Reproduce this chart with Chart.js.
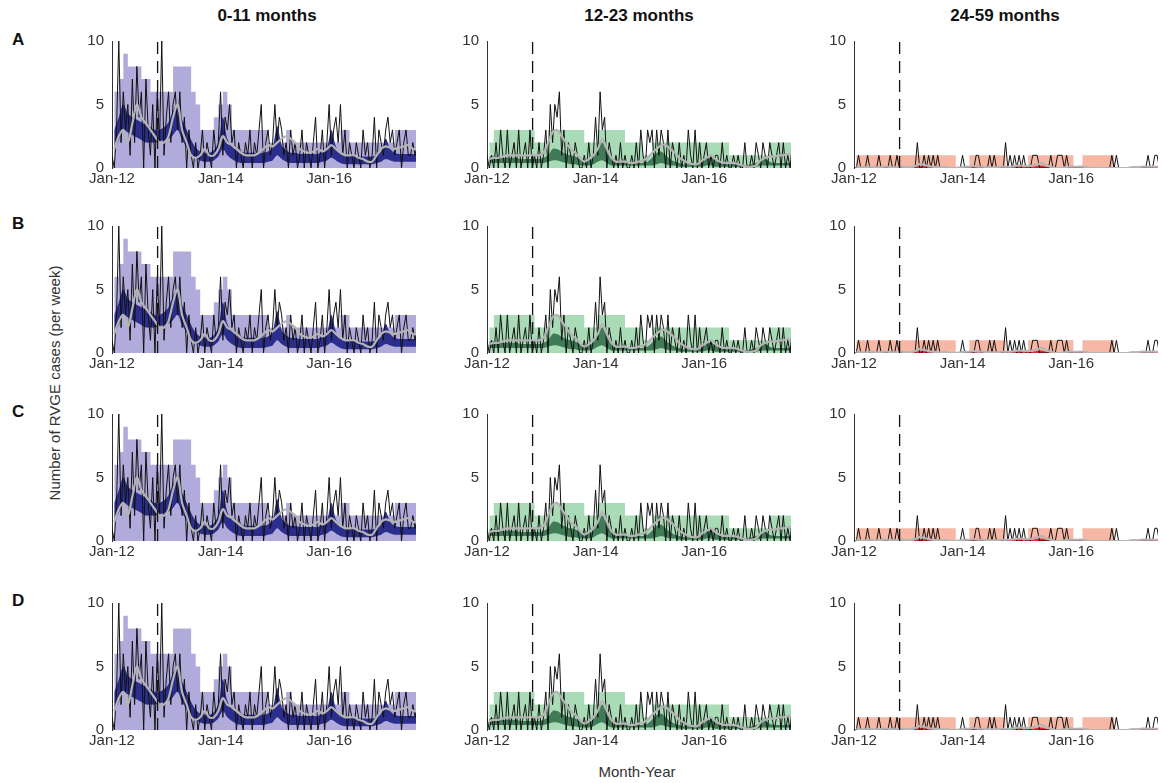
<!DOCTYPE html>
<html>
<head>
<meta charset="utf-8">
<script src="https://cdn.jsdelivr.net/npm/chart.js@4"></script>
<style>
  body { margin: 0; width: 1161px; height: 783px; background: #fff; position: relative; overflow: hidden;
         font-family: "Liberation Sans", Arial, sans-serif; }
  .pane { position: absolute; }
  .txt { position: absolute; color: #111; }
  .title { font-weight: bold; font-size: 17px; transform: translateX(-50%); }
  .row { font-weight: bold; font-size: 17px; }
</style>
</head>
<body>
<div class="txt title" style="left:267px;top:6px">0-11 months</div>
<div class="txt title" style="left:639px;top:6px">12-23 months</div>
<div class="txt title" style="left:1005px;top:6px">24-59 months</div>
<div class="txt row" style="left:12px;top:30px">A</div>
<div class="txt row" style="left:12px;top:214px">B</div>
<div class="txt row" style="left:12px;top:402px">C</div>
<div class="txt row" style="left:12px;top:591px">D</div>
<div class="txt" style="left:54px;top:383px;font-size:15px;color:#333;transform:translate(-50%,-50%) rotate(-90deg);white-space:nowrap">Number of RVGE cases (per week)</div>
<div class="txt" style="left:637px;top:763px;font-size:15px;color:#333;transform:translateX(-50%)">Month-Year</div>

<script>
// ===== データ =====
var rows = ["A", "B", "C", "D"];
var groups = ["0-11 months", "12-23 months", "24-59 months"];
var tickYears = [2012, 2014, 2016];
var tickLabels = ["Jan-12", "Jan-14", "Jan-16"];
var vaccineDate = 2012.84;
var xStart = 2012, xEnd = 2017.6;

// 観測値（半月ごと）
var obs1 = [1,0,3,10,2,6,3,5,1,7,2,8,4,6,0,7,3,1,5,0,6,2,10,1,
            4,6,2,5,6,3,6,2,4,0,3,1,0,2,0,1,3,0,2,1,0,3,1,2,
            6,1,4,3,5,2,3,0,2,1,0,2,1,3,0,2,1,3,5,0,2,3,1,2,
            5,2,4,3,1,2,0,3,1,2,0,1,3,0,2,1,0,2,4,0,1,3,0,2,
            5,1,3,4,2,5,1,3,0,2,1,0,2,1,0,3,1,2,0,1,4,0,3,2,
            1,3,4,2,3,1,2,3,0,2,3,1,1,2,1,2];
var obs2 = [1,0,1,0,2,0,3,1,0,3,0,1,2,0,3,0,1,2,0,3,0,1,0,2,
            0,1,3,0,5,2,5,4,6,1,3,0,2,1,0,2,1,0,0,1,0,2,0,1,
            4,1,6,3,4,0,2,1,0,1,0,2,0,1,0,0,1,0,2,0,3,1,0,3,
            2,3,0,3,1,3,2,0,3,0,2,1,0,2,0,1,0,3,1,0,3,0,2,0,
            1,2,0,1,0,1,1,0,2,0,1,0,0,1,0,1,0,0,2,0,0,1,0,2,
            1,0,2,1,0,2,1,0,1,2,0,2,0,1,0,2];
var obs3 = [0,0,1,0,0,0,1,0,0,0,0,1,0,0,0,0,1,0,0,1,0,0,0,0,
            0,0,0,0,2,0,0,1,0,1,0,1,0,1,0,0,0,0,0,0,0,0,0,0,
            1,0,0,0,0,0,1,1,0,0,0,0,1,0,1,0,0,0,0,2,0,1,0,1,
            0,1,0,1,0,0,0,1,1,1,0,0,0,0,0,1,0,0,1,1,1,0,1,0,
            0,0,0,0,0,0,0,0,0,0,0,0,0,0,0,0,0,0,1,0,1,0,0,0,
            0,0,0,0,0,0,0,0,0,0,1,0,0,1,1,0];

// 予測区間（月ごと）
var lightHi1 = [6,7,9,8,8,8,7,7,6,6,6,6,6,8,8,8,8,6,5,3,3,3,4,5,
                6,5,3,3,3,3,3,3,3,3,2,2,2,2,3,2,2,2,2,2,2,2,2,2,
                2,2,3,3,2,2,2,2,2,2,2,2,2,2,3,3,3,3,3,3];
var darkLo1  = [1.5,2.2,3,2.8,2.6,2.4,2.2,2,2,2,2.1,2.2,2.3,2.6,3,2.2,1.6,1.1,0.8,0.6,0.5,0.5,0.6,0.9,
                1.5,1,0.7,0.5,0.4,0.4,0.4,0.4,0.4,0.4,0.5,0.6,1,0.7,0.5,0.4,0.4,0.4,0.4,0.4,0.4,0.4,0.5,0.6,
                0.8,0.6,0.4,0.3,0.3,0.3,0.3,0.3,0.3,0.3,0.4,0.5,0.7,0.6,0.5,0.5,0.5,0.5,0.5,0.5];
var darkHi1  = [3,4,5,4.3,4,3.8,3.6,3.4,3.2,3,3,3.2,3.6,4.5,5,3.8,3,2.2,1.6,1.3,1.2,1.2,1.4,2,
                4,2.3,1.7,1.4,1.3,1.2,1.2,1.2,1.2,1.2,1.3,1.6,3.3,1.8,1.4,1.2,1.2,1.1,1.1,1.1,1.1,1.1,1.3,1.6,
                3,1.7,1.2,1,1,1,0.9,0.9,0.9,0.9,1,1.3,2.3,1.5,1.2,1.1,1.1,1.1,1.1,1.1];
var median1  = [1.5,2.5,3,2,3.5,5,4,3.5,3,2.5,2,2,2.5,4,5,3,2,1,0.8,1,1.5,1,1,1.5,
                2.5,2,1.8,1.5,1.2,1,1,1,1.2,1.5,1.8,1.7,2,2.3,2.5,2.3,2,1.5,1.3,1.2,1.3,1.5,1.3,1.5,
                1.8,1.5,1.2,1,1,1,0.8,0.7,0.5,0.5,1,1.5,1.7,1.6,1.5,1.6,1.7,1.8,1.5,1.5];

var lightHi2 = [2,3,3,3,3,3,3,3,3,3,2,2,2,3,3,3,3,3,3,3,3,2,2,2,
                3,3,3,3,3,3,2,2,2,2,1,1,2,2,2,2,2,2,2,2,2,2,2,2,
                2,2,2,2,2,1,1,1,1,1,1,1,1,1,2,2,2,2,2,2];
var darkLo2  = [0.4,0.4,0.4,0.4,0.4,0.4,0.4,0.4,0.4,0.4,0.4,0.4,0.4,0.5,0.6,0.6,0.5,0.4,0.3,0.3,0.2,0.2,0.2,0.3,
                0.5,0.6,0.4,0.2,0.2,0.2,0.2,0.2,0.2,0.2,0.2,0.2,0.2,0.3,0.4,0.3,0.2,0.2,0.1,0.1,0.1,0.1,0.1,0.1,
                0.2,0.2,0.1,0.1,0.1,0.1,0.1,0.1,0.1,0.1,0.1,0.1,0.2,0.2,0.2,0.2,0.2,0.2,0.2,0.2];
var darkHi2  = [0.9,0.9,0.9,0.8,0.8,0.8,0.8,0.7,0.7,0.7,0.7,0.7,0.8,1,1.5,1.5,1.3,1.1,1,0.9,0.7,0.6,0.6,0.8,
                1.5,2,1.2,0.7,0.5,0.5,0.5,0.4,0.4,0.4,0.4,0.5,0.8,1.2,1.3,1,0.7,0.5,0.4,0.3,0.3,0.3,0.3,0.4,
                0.7,0.8,0.6,0.4,0.3,0.3,0.3,0.3,0.2,0.2,0.3,0.4,0.6,0.7,0.5,0.4,0.4,0.4,0.4,0.4];
var median2  = [0.7,0.8,0.8,0.9,1,1,1,1,1,1,1,1,1.2,2,2.8,3,2.5,2,1.5,1.2,0.8,0.5,0.7,1,
                1.5,2.3,1.5,0.8,0.5,0.5,0.5,0.4,0.4,0.5,0.6,0.8,1.2,1.5,1.8,1.8,1.5,1.2,0.8,0.6,0.4,0.3,0.3,0.6,
                0.8,1,0.7,0.5,0.4,0.4,0.4,0.3,0.2,0.1,0.1,0.2,0.6,0.8,0.9,0.9,1,1,1.1,1.1];

var lightHi3 = [1,1,1,1,1,1,1,1,1,1,1,1,1,1,1,1,1,1,1,1,1,1,0,0,
                0,1,1,1,1,1,1,1,1,0,0,0,0,0,1,1,1,1,1,1,1,1,1,1,
                0,0,1,1,1,1,1,1,1,0,0,0,0,0,0,0,0,0,0,0];
var darkLo3  = [0,0,0,0,0,0,0,0,0,0,0,0,0,0,0,0,0,0,0,0,0,0,0,0,
                0,0,0,0,0,0,0,0,0,0,0,0,0,0,0,0,0,0,0,0,0,0,0,0,
                0,0,0,0,0,0,0,0,0,0,0,0,0,0,0,0,0,0,0,0];
var darkHi3  = [0.05,0.05,0.05,0.05,0.05,0.05,0.05,0.05,0.05,0.05,0.05,0.05,0.05,0.1,0.15,0.15,0.1,0.05,0.05,0.05,0.05,0.05,0.05,0.05,
                0.05,0.05,0.1,0.1,0.05,0.05,0.05,0.05,0.05,0.05,0.05,0.1,0.15,0.1,0.1,0.1,0.15,0.2,0.1,0.05,0.05,0.05,0.05,0.05,
                0.1,0.1,0.1,0.05,0.05,0.05,0.05,0.05,0.05,0.05,0.05,0.05,0.05,0.1,0.1,0.1,0.1,0.1,0.1,0.1];
var median3  = [0.1,0.05,0.05,0.1,0.05,0.05,0.1,0.1,0.05,0.05,0.1,0.05,0.05,0.15,0.3,0.25,0.15,0.1,0.05,0.05,0.05,0,0,0.05,
                0.1,0.1,0.15,0.1,0.1,0.05,0.05,0.05,0.1,0.1,0.1,0.15,0.2,0.15,0.15,0.2,0.3,0.4,0.2,0.1,0,0,0.05,0.1,
                0.1,0.1,0.1,0.05,0,0,0,0,0,0,0,0,0,0.05,0.05,0.1,0.1,0.1,0.1,0.1];

var cols = [
  { obs: obs1, lightHi: lightHi1, darkLo: darkLo1, darkHi: darkHi1, median: median1,
    light: "#b1abdb", dark: "#2c2e8e", left: 72 },
  { obs: obs2, lightHi: lightHi2, darkLo: darkLo2, darkHi: darkHi2, median: median2,
    light: "#a9dbb6", dark: "#3e7b56", left: 447 },
  { obs: obs3, lightHi: lightHi3, darkLo: darkLo3, darkHi: darkHi3, median: median3,
    light: "#f6b8a4", dark: "#e8202a", left: 814 },
];
var rowTops = [28, 213, 401, 590];

function monthly(arr) { return arr.map(function (v, i) { return { x: xStart + i / 12 + 1 / 24, y: v }; }); }
function halfMonth(arr) { return arr.map(function (v, i) { return { x: xStart + i / 24, y: v }; }); }

// ===== パネル描画 =====
rowTops.forEach(function (top) {
  cols.forEach(function (c) {
    var div = document.createElement("div");
    div.className = "pane";
    div.style.left = c.left + "px";
    div.style.top = top + "px";
    div.style.width = "350px";
    div.style.height = "172px";
    var cv = document.createElement("canvas");
    div.appendChild(cv);
    document.body.appendChild(div);
    var zeros = c.lightHi.map(function () { return 0; });
    new Chart(cv, {
      type: "line",
      data: {
        datasets: [
          { data: monthly(zeros), borderWidth: 0, pointRadius: 0, fill: false, order: 6, stepped: true },
          { data: monthly(c.lightHi), borderWidth: 0, pointRadius: 0, backgroundColor: c.light, fill: "-1", order: 5, stepped: true },
          { data: monthly(c.darkLo), borderWidth: 0, pointRadius: 0, fill: false, order: 4, tension: 0.3 },
          { data: monthly(c.darkHi), borderWidth: 0, pointRadius: 0, backgroundColor: c.dark, fill: "-1", order: 4, tension: 0.3 },
          { data: halfMonth(c.obs), borderColor: "#111", borderWidth: 1, pointRadius: 0, fill: false, order: 3 },
          { data: monthly(c.median), borderColor: "#b4b4b4", borderWidth: 2.2, pointRadius: 0, fill: false, order: 2, tension: 0.3 },
          { data: [{ x: vaccineDate, y: 0 }, { x: vaccineDate, y: 10 }], borderColor: "#111", borderWidth: 1.3,
            borderDash: [12, 7], pointRadius: 0, fill: false, order: 1 },
        ],
      },
      options: {
        responsive: true, maintainAspectRatio: false, animation: false,
        layout: { padding: { top: 8, right: 6, left: 0, bottom: 0 } },
        plugins: { legend: { display: false }, tooltip: { enabled: false } },
        scales: {
          x: {
            type: "linear", min: xStart, max: xEnd,
            afterBuildTicks: function (s) { s.ticks = tickYears.map(function (v) { return { value: v }; }); },
            ticks: { color: "#333", font: { size: 15, family: "Liberation Sans" }, maxRotation: 0, padding: 2,
                     callback: function (v) { return tickLabels[tickYears.indexOf(v)]; } },
            grid: { display: false, drawTicks: false },
            border: { display: false },
            afterFit: function (s) { s.height = 32; },
          },
          y: {
            min: 0, max: 10,
            ticks: { stepSize: 5, color: "#333", font: { size: 15, family: "Liberation Sans" }, padding: 4 },
            grid: { display: false, drawTicks: true, tickLength: 4, tickColor: "#333" },
            border: { display: true, color: "#333", width: 1 },
            afterFit: function (s) { s.width = 40; },
          },
        },
      },
    });
  });
});
</script>
</body>
</html>
